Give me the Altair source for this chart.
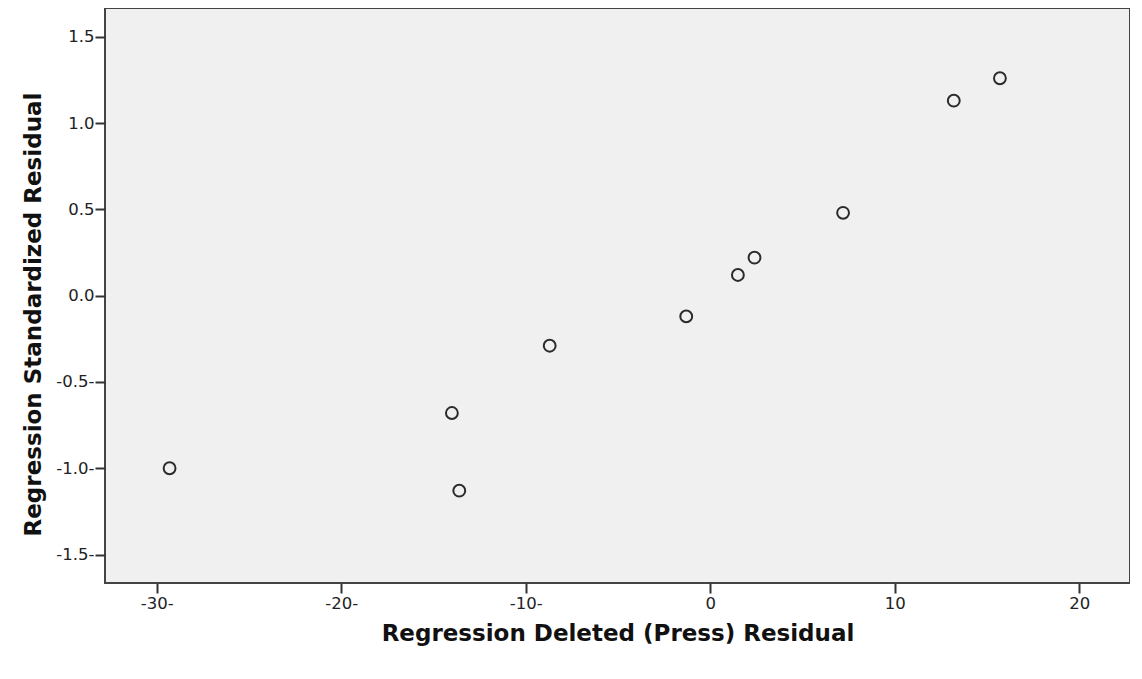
import altair as alt
import pandas as pd

deleted_resid = [-29.3, -14.0, -13.6, -8.7, -1.3, 1.5, 2.4, 7.2, 13.2, 15.7]
std_resid = [-1.00, -0.68, -1.13, -0.29, -0.12, 0.12, 0.22, 0.48, 1.13, 1.26]

x_ticks = [-30, -20, -10, 0, 10, 20]
y_ticks = [-1.5, -1.0, -0.5, 0.0, 0.5, 1.0, 1.5]

df = pd.DataFrame({"x": deleted_resid, "y": std_resid})

label_font = "DejaVu Sans"
title_font = "DejaVu Sans"

chart = alt.Chart(df).mark_point(
    shape="circle", filled=False, size=140, strokeWidth=2, color="#2b2b2b", opacity=1
).encode(
    x=alt.X("x:Q", title="Regression Deleted (Press) Residual",
            scale=alt.Scale(domain=[-32.8, 22.75], nice=False, zero=False),
            axis=alt.Axis(values=x_ticks, grid=False, domain=False,
                          labelExpr="datum.value < 0 ? '-' + format(abs(datum.value), 'd') + '-' : format(datum.value, 'd')",
                          tickSize=10, tickWidth=2, tickColor="#333333",
                          labelFont=label_font, labelFontSize=16.5, labelColor="#222222",
                          labelPadding=2,
                          titleFont=title_font, titleFontSize=23, titleFontWeight="bold",
                          titleColor="#111111", titlePadding=11)),
    y=alt.Y("y:Q", title="Regression Standardized Residual",
            scale=alt.Scale(domain=[-1.665, 1.667], nice=False, zero=False),
            axis=alt.Axis(values=y_ticks, grid=False, domain=False,
                          labelExpr="datum.value < 0 ? '-' + format(abs(datum.value), '.1f') + '-' : format(datum.value, '.1f')",
                          tickSize=10, tickWidth=2, tickColor="#333333",
                          labelFont=label_font, labelFontSize=16.5, labelColor="#222222",
                          labelPadding=1,
                          titleFont=title_font, titleFontSize=23, titleFontWeight="bold",
                          titleColor="#111111", titlePadding=10, titleY=306)),
).properties(
    width=1025, height=575,
    padding={"left": 97, "top": 0, "right": 0, "bottom": 85},
    autosize=alt.AutoSizeParams(type="none"),
    background="white",
).configure_view(
    fill="#F0F0F0", stroke="#444444", strokeWidth=2
)

chart.save("out.html", embed_options={"renderer": "svg", "actions": False})
